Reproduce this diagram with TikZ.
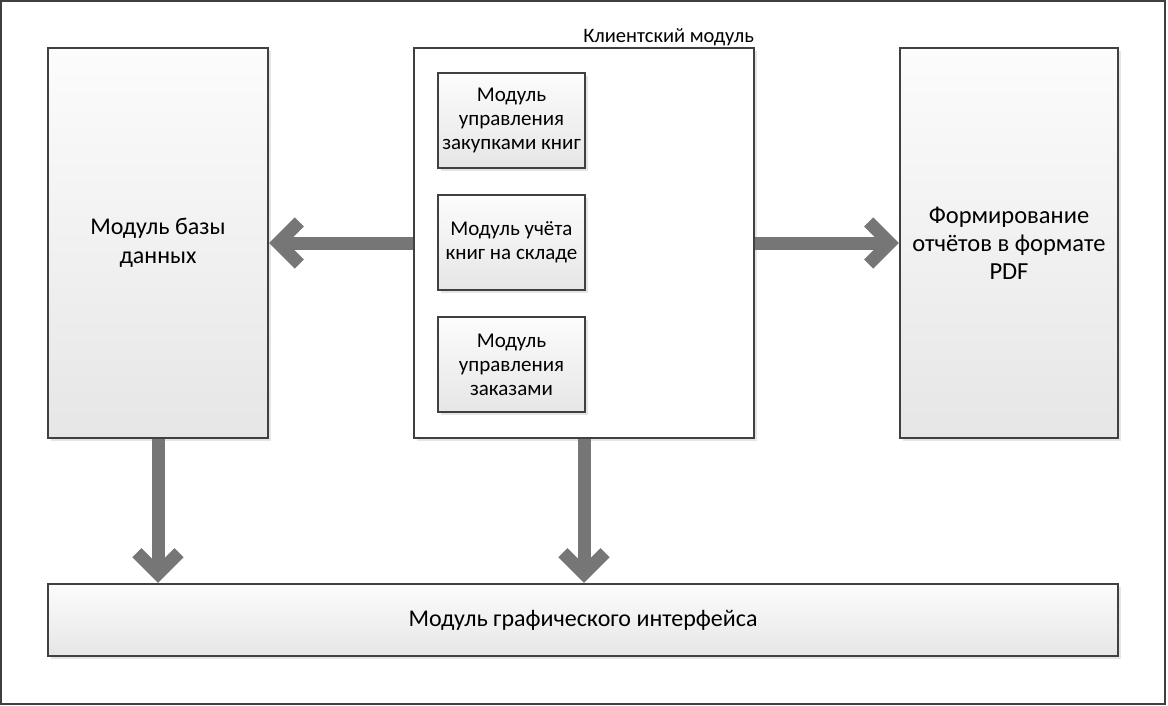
\documentclass[tikz,border=0pt]{standalone}
\usepackage{fontspec}
\setmainfont{Carlito}
\usetikzlibrary{arrows.meta,shadows}
\definecolor{edge}{HTML}{404040}
\definecolor{arrowgray}{HTML}{767676}
\definecolor{boxtop}{HTML}{FCFCFC}
\definecolor{boxbot}{HTML}{E6E6E6}
\tikzset{
  blockbox/.style={draw=edge, line width=2.2pt, top color=boxtop, bottom color=boxbot,
    align=center, inner sep=2pt,
    general shadow={shadow xshift=3pt, shadow yshift=-3pt, fill=black!10}},
  bigtext/.style={font=\fontsize{24}{29}\selectfont},
  smalltext/.style={font=\fontsize{21}{24}\selectfont},
  fatarrow/.style={draw=arrowgray, line width=13pt,
    -{Straight Barb[length=21pt,width=42pt]}},
}
\begin{document}
\begin{tikzpicture}[x=1pt,y=-1pt]
\useasboundingbox (0,0) rectangle (1168,706);
\draw[edge, line width=2pt] (1,1) rectangle (1165,704);
\node[blockbox, bigtext, minimum width=220pt, minimum height=390pt] (db) at (158,243) {Модуль базы\\данных};
\node[draw=edge, line width=2.2pt, fill=white, minimum width=340pt, minimum height=390pt,
  general shadow={shadow xshift=3pt, shadow yshift=-3pt, fill=black!10}] (client) at (584,243) {};
\node[anchor=south east, inner sep=1pt, font=\fontsize{20.5}{22}\selectfont] (clientlbl) at (client.north east) {Клиентский модуль};
\node[blockbox, smalltext, minimum width=147pt, minimum height=95pt] (m1) at (511.5,120.5) {Модуль\\управления\\закупками книг};
\node[blockbox, smalltext, minimum width=147pt, minimum height=95pt] (m2) at (511.5,242.5) {Модуль учёта\\книг на складе};
\node[blockbox, smalltext, minimum width=147pt, minimum height=95pt] (m3) at (511.5,364.5) {Модуль\\управления\\заказами};
\node[blockbox, font=\fontsize{24.5}{28}\selectfont, minimum width=218pt, minimum height=390pt] (pdf) at (1009,243) {Формирование\\отчётов в формате\\PDF};
\node[blockbox, bigtext, minimum width=1070pt, minimum height=72pt] (gui) at (583,620) {Модуль графического интерфейса};
\draw[fatarrow] (client.west) -- (db.east);
\draw[fatarrow] (client.east) -- (pdf.west);
\draw[fatarrow] (db.south) -- (db.south |- gui.north);
\draw[fatarrow] (client.south) -- (client.south |- gui.north);
\end{tikzpicture}
\end{document}
